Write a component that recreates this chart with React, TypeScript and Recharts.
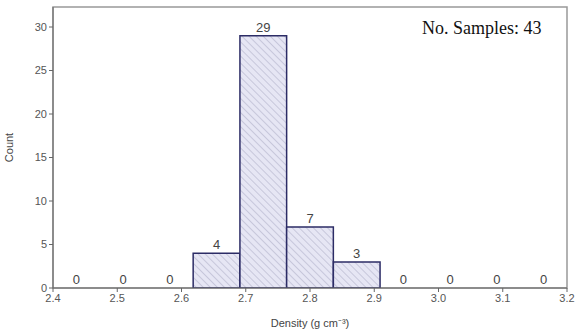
import { ComposedChart, Bar, Line, XAxis, YAxis, LabelList, ReferenceArea, Label } from 'recharts';

// 11 equal bins between 2.4 and 3.2 g cm^-3
const binCenters = [2.4364, 2.5091, 2.5818, 2.6545, 2.7273, 2.8, 2.8727, 2.9455, 3.0182, 3.0909, 3.1636];
const counts = [0, 0, 0, 4, 29, 7, 3, 0, 0, 0, 0];
const xTicks = [2.4, 2.5, 2.6, 2.7, 2.8, 2.9, 3.0, 3.1, 3.2];
const xMinorTicks = [2.45, 2.55, 2.65, 2.75, 2.85, 2.95, 3.05, 3.15];
const yTicks = [0, 5, 10, 15, 20, 25, 30];

const data = binCenters.map((x, i) => ({ x, count: counts[i] }));

const font = 'Liberation Sans, Arial, sans-serif';
const tickStyle = { fontFamily: font, fontSize: 11, fill: '#555' };

const App = () => {
  return (
    <div style={{ position: 'absolute', left: 0, top: 0, width: 579, height: 335, background: '#fff' }}>
      <ComposedChart width={579} height={335} data={data} margin={{ top: 7, right: 12, left: 0, bottom: 0 }}>
        <defs>
          <pattern id="hatch" width="5" height="5" patternUnits="userSpaceOnUse" patternTransform="rotate(-45)">
            <rect width="5" height="5" fill="#e6e6f4" />
            <line x1="0" y1="0" x2="0" y2="5" stroke="#babad0" strokeWidth="1.4" />
          </pattern>
        </defs>
        <XAxis
          dataKey="x"
          type="number"
          domain={[2.4, 3.2]}
          ticks={xTicks}
          tickFormatter={(v: number) => v.toFixed(1)}
          height={47}
          tick={tickStyle}
          tickSize={4}
          tickMargin={2}
          stroke="#666"
          interval={0}
        >
          <Label
            value="Density (g cm⁻³)"
            position="insideBottom"
            offset={8}
            style={{ fontFamily: font, fontSize: 11, fill: '#444' }}
          />
        </XAxis>
        <XAxis
          xAxisId="minor"
          dataKey="x"
          type="number"
          domain={[2.4, 3.2]}
          ticks={xMinorTicks}
          tick={false}
          tickSize={2}
          axisLine={false}
          stroke="#888"
          height={0}
          interval={0}
        />
        <YAxis
          type="number"
          domain={[0, 32.3]}
          ticks={yTicks}
          width={53}
          tick={tickStyle}
          tickSize={4}
          stroke="#666"
          allowDataOverflow
        >
          <Label
            value="Count"
            angle={-90}
            position="insideLeft"
            offset={9}
            style={{ fontFamily: font, fontSize: 11, fill: '#444', textAnchor: 'middle' }}
          />
        </YAxis>
        <ReferenceArea x1={2.4} x2={3.2} y1={0} y2={32.3} fill="none" stroke="#999" strokeWidth={1.5} ifOverflow="visible" />
        <Bar dataKey="count" barSize={46.7} fill="url(#hatch)" stroke="#2c2c66" strokeWidth={1.5} isAnimationActive={false} />
        <Line dataKey="count" stroke="none" dot={false} activeDot={false} isAnimationActive={false}>
          <LabelList
            dataKey="count"
            position="top"
            offset={4}
            style={{ fontFamily: font, fontSize: 13, fill: '#444' }}
          />
        </Line>
      </ComposedChart>
      <div
        style={{
          position: 'absolute',
          left: 422,
          top: 18,
          fontFamily: 'Liberation Serif, Times New Roman, serif',
          fontSize: 18,
          color: '#111',
          whiteSpace: 'nowrap',
        }}
      >
        No. Samples: 43
      </div>
    </div>
  );
};

export default App;
